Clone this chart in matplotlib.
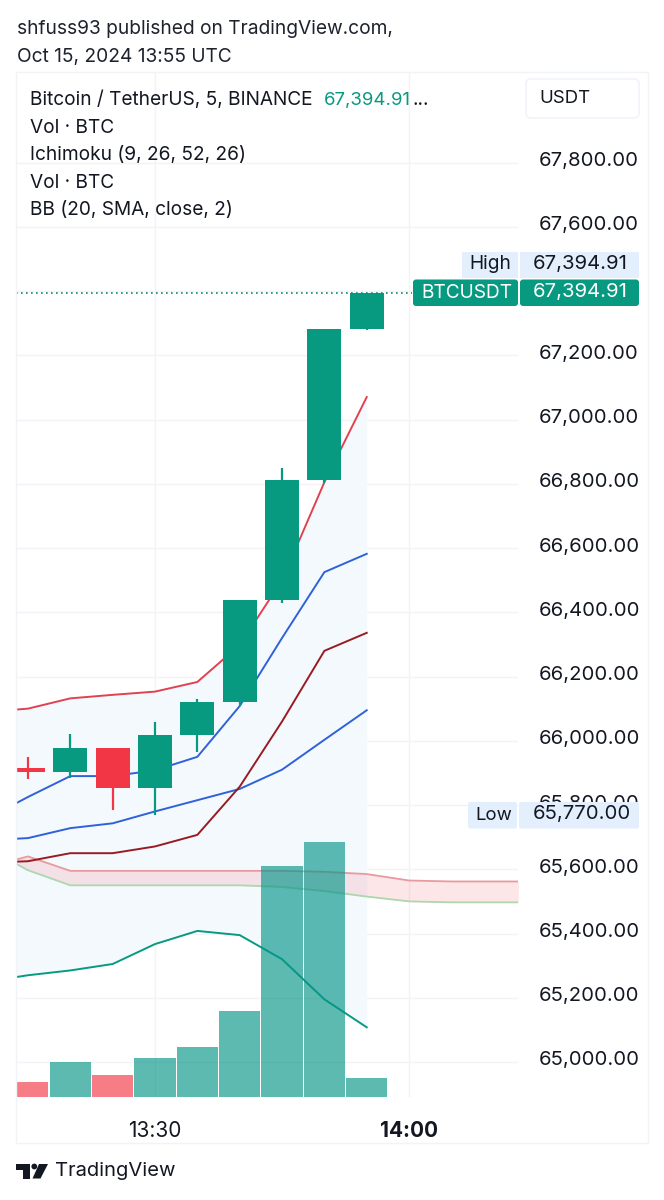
import numpy as np
import matplotlib
matplotlib.use('Agg')
import matplotlib.pyplot as plt
from matplotlib.patches import FancyBboxPatch, Rectangle, Polygon, Circle
from matplotlib.transforms import ScaledTranslation

plt.rcParams['font.family'] = ['Inter', 'DejaVu Sans']

# candles, minutes after 13:00
candle_t = [15, 20, 25, 30, 35, 40, 45, 50, 55]
opens = [65915, 65904, 65976, 65852, 66017, 66121, 66438, 66812, 67283]
closes = [65903, 65976, 65852, 66017, 66121, 66438, 66812, 67283, 67394.91]
highs = [65948, 66021, 65979, 66059, 66131, 66438, 66848, 67283, 67394.91]
lows = [65880, 65883, 65785, 65770, 65966, 66108, 66428, 66803, 67279]
volumes = [31, 71, 45, 78, 101, 172, 462, 511, 39]

# indicator lines, 13:10 is off the left edge of the chart
line_t = [10, 15, 20, 25, 30, 35, 40, 45, 50, 55]
bb_upper = [66090, 66100, 66132, 66143, 66153, 66183, 66298, 66500, 66805, 67070]
bb_basis = [65755, 65825, 65890, 65890, 65908, 65950, 66108, 66320, 66525, 66582]
bb_lower = [65690, 65697, 65728, 65743, 65780, 65815, 65850, 65910, 66003, 66095]
tenkan = [65620, 65625, 65650, 65650, 65671, 65707, 65857, 66060, 66280, 66336]
lagging = [65250, 65270, 65285, 65305, 65367, 65408, 65395, 65320, 65195, 65108]

cloud_t = [13.6, 15, 20, 25, 30, 35, 40, 45, 50, 55, 60, 65, 72.9]
span_a = [65630, 65640, 65595, 65595, 65595, 65595, 65595, 65595, 65592, 65585, 65565, 65562, 65562]
span_b = [65617, 65597, 65550, 65550, 65550, 65550, 65550, 65545, 65532, 65515, 65500, 65497, 65497]

price_ticks = [65000, 65200, 65400, 65600, 65800, 66000, 66200, 66400, 66600, 66800,
               67000, 67200, 67400, 67600, 67800]
time_ticks = [30, 60]
last_price = 67394.91

GREEN = '#089981'
RED = '#f23645'
GRID = '#f1f3f6'
W, H = 664, 1200

fig = plt.figure(figsize=(W / 100, H / 100), dpi=100, facecolor='white')

# main chart, placed by pixels
ax = fig.add_axes([16 / W, 1 - 1097 / H, (518 - 16) / W, (1097 - 72) / H])
ax.set_xlim(13.59, 72.86)
ax.set_ylim(64891, 68082)
for s in ax.spines.values():
    s.set_visible(False)
ax.set_axisbelow(True)
ax.grid(color=GRID, lw=1.0)

ax.fill_between(line_t, bb_upper, lagging, color='#f4f9fe', lw=0, zorder=1)
ax.fill_between(cloud_t, span_a, span_b, color='#f23645', alpha=0.12, lw=0, zorder=1.5)
ax.plot(cloud_t, span_a, color='#e99a9c', lw=1.3, zorder=2)
ax.plot(cloud_t, span_b, color='#add7ad', lw=1.3, zorder=2)
ax.plot(line_t, bb_upper, color='#e0424f', lw=1.4, zorder=2)
ax.plot(line_t, bb_basis, color='#2f62d8', lw=1.4, zorder=2)
ax.plot(line_t, bb_lower, color='#2f62d8', lw=1.4, zorder=2)
ax.plot(line_t, tenkan, color='#971c22', lw=1.4, zorder=2)
ax.plot(line_t, lagging, color=GREEN, lw=1.4, zorder=2)

for t, o, c, h, l in zip(candle_t, opens, closes, highs, lows):
    col = GREEN if c >= o else RED
    ax.vlines(t, l, h, color=col, lw=1.6, zorder=3)
    ax.bar(t, abs(c - o), bottom=min(o, c), width=4.0, color=col, lw=0, zorder=3)

ax.plot([13.59, 60.4], [last_price, last_price], color='#0d8a75', lw=1.2, ls=(0, (1, 2)), zorder=3)

# volume sits on its own scale at the bottom of the chart
vol = ax.twinx()
vol.set_ylim(0, 2050)
vol.set_yticks([])
for s in vol.spines.values():
    s.set_visible(False)
vol.bar(candle_t, volumes, width=4.85,
        color=['#069588' if c >= o else RED for o, c in zip(opens, closes)], alpha=0.65, lw=0)

# twinx moves the price ticks to the left, so set them up after it
ax.yaxis.tick_right()
ax.set_yticks(price_ticks)
ax.set_yticklabels([f'{p:,.2f}' for p in price_ticks])
ax.tick_params(axis='y', length=0, pad=15, labelsize=14.6, labelcolor='#131722')
up = ScaledTranslation(0, 1.5 / 100, fig.dpi_scale_trans)
for lab in ax.get_yticklabels():
    lab.set_ha('left')
    lab.set_va('center')
    lab.set_transform(lab.get_transform() + up)
ax.set_xticks(time_ticks)
ax.set_xticklabels(['13:30', '14:00'])
ax.tick_params(axis='x', length=0, pad=17, labelsize=15, labelcolor='#131722')
ax.get_xticklabels()[1].set_fontweight('bold')

# text, badges and frame in pixel coordinates
ov = fig.add_axes([0, 0, 1, 1], zorder=5)
ov.set_xlim(0, W)
ov.set_ylim(H, 0)
ov.axis('off')
ov.patch.set_alpha(0)

ov.add_patch(Rectangle((16, 72), 632, 1071, fill=False, ec=GRID, lw=1.0))
ov.add_patch(FancyBboxPatch((526, 79), 113, 39, boxstyle='round,pad=0,rounding_size=5',
                            fc='white', ec='#f0f3f8', lw=1.2))


def txt(x, y, s, size=13.75, color='#131722', **kw):
    return ov.text(x, y, s, fontsize=size, va='center', color=color, **kw)


txt(539, 98.5, 'USDT', size=13.4)
txt(17, 29, 'shfuss93 published on TradingView.com,', size=13.8, color='#1e222d')
txt(17, 57, 'Oct 15, 2024 13:55 UTC', size=13.8, color='#1e222d')
txt(30, 100, 'Bitcoin / TetherUS, 5, BINANCE')
txt(324, 100, '67,394.91', size=13.4, color=GREEN)
txt(412, 100, '...')
txt(30, 128, 'Vol · BTC')
txt(30, 155, 'Ichimoku (9, 26, 52, 26)')
txt(30, 183, 'Vol · BTC')
txt(30, 210, 'BB (20, SMA, close, 2)')

LABEL = '#e3effd'
ov.add_patch(Rectangle((462, 252), 56, 26, fc=LABEL, lw=0))
ov.add_patch(Rectangle((520, 252), 119, 26, fc=LABEL, lw=0))
txt(469, 264, 'High')
txt(533, 264, f'{last_price:,.2f}', size=14.6)
ov.add_patch(FancyBboxPatch((413, 279.5), 105, 26.5, boxstyle='round,pad=0,rounding_size=3', fc=GREEN, lw=0))
ov.add_patch(FancyBboxPatch((520, 279.5), 119, 26.5, boxstyle='round,pad=0,rounding_size=3', fc=GREEN, lw=0))
txt(421, 293, 'BTCUSDT', color='white')
txt(533, 292, f'{last_price:,.2f}', size=14.6, color='white')
ov.add_patch(FancyBboxPatch((468, 802), 49, 26.5, boxstyle='round,pad=0,rounding_size=2', fc=LABEL, lw=0))
ov.add_patch(FancyBboxPatch((519, 802), 120, 26.5, boxstyle='round,pad=0,rounding_size=2', fc=LABEL, lw=0))
txt(475, 815, 'Low', size=13.4)
txt(533, 814, f'{min(lows):,.2f}', size=14.6)

# TradingView logo
LOGO = '#131722'
ov.add_patch(Polygon([(16, 1164), (30, 1164), (30, 1178.5), (22.5, 1178.5), (22.5, 1170), (16, 1170)], fc=LOGO, lw=0))
ov.add_patch(Circle((34.3, 1166.5), 2.9, fc=LOGO, lw=0))
ov.add_patch(Polygon([(39, 1164), (48, 1164), (40.5, 1178.5), (32.5, 1178.5)], fc=LOGO, lw=0))
txt(55, 1170.5, 'TradingView', size=14.5)

fig.savefig('out.png', dpi=100)
